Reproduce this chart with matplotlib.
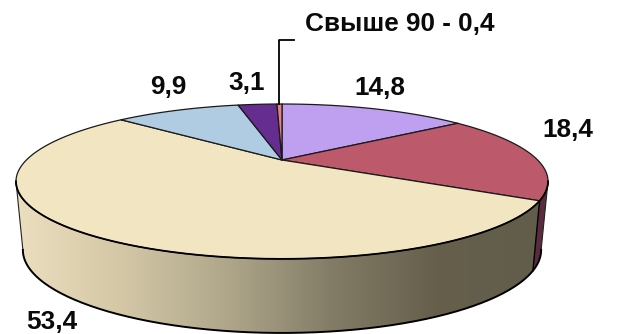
import matplotlib
matplotlib.use('Agg')
import matplotlib.pyplot as plt
import numpy as np
from matplotlib.colors import LinearSegmentedColormap
from matplotlib.patches import Polygon

# clockwise from 12 o'clock
values = [14.8, 18.4, 53.4, 9.9, 3.1, 0.4]
labels = ['14,8', '18,4', '53,4', '9,9', '3,1', 'Свыше 90 - 0,4']
colors = ['#BF9FEF', '#BC5A6B', '#F2E6C2', '#B0CCE2', '#662D91', '#E8827F']
label_pos = [(380, 88), (568, 130), (52, 322), (168, 87), (247, 83), (400, 24)]

plt.rcParams['font.family'] = ['Liberation Sans', 'DejaVu Sans']

# tilted disc, projective so the apex sits above the ellipse centre
K = 0.277

def project(theta, r=1.0, top=True):
    u = r * np.sin(theta)
    v = r * np.cos(theta)
    w = 1 + K * v
    if top:
        return 282 + 255.6 * u / w, 160 - 71.5 * v / w
    return 282 + 249.0 * u / w, 227 - 76.6 * v / w

def arc(a, b, top=True):
    t = np.linspace(a, b, 200)
    x, y = project(t, top=top)
    return np.column_stack([x, y])

fig = plt.figure(figsize=(6.35, 3.34), dpi=100)
ax = fig.add_axes([0, 0, 1, 1])

edges = np.concatenate([[0], np.cumsum(values)]) / sum(values) * 2 * np.pi

# side wall: only the front part of the rim shows
left = np.radians(254)
right = np.radians(106)
wall = np.vstack([arc(right, left), arc(left, right, top=False)])
wall_patch = Polygon(wall, closed=True, fc='none', ec='none')
ax.add_patch(wall_patch)
shade = LinearSegmentedColormap.from_list('wall', ['#EBDFBF', '#D3C7A6', '#B0A78B', '#837D67', '#655F4C', '#625D4B'])
img = ax.imshow(np.linspace(0, 1, 256)[None, :], cmap=shade, extent=[16, 541, 334, 100], aspect='auto', zorder=1)
img.set_clip_path(wall_patch)

# dark end of the red slice
red = np.vstack([arc(right, edges[2]), arc(edges[2], right, top=False)])
ax.add_patch(Polygon(red, closed=True, fc='#5A2A3E', ec='none', zorder=2))
ax.plot(*np.array([project(edges[2]), project(edges[2], top=False)]).T, color='black', lw=1.0, zorder=3)
ax.plot(*np.array([project(left), project(left, top=False)]).T, color='#222222', lw=0.8, zorder=3)
ax.plot(*np.array([project(right), project(right, top=False)]).T, color='#222222', lw=0.8, zorder=3)
ax.plot(*arc(right, left, top=False).T, color='black', lw=1.4, zorder=3)

# top face
for i, c in enumerate(colors):
    pts = np.vstack([[project(0, r=0)], arc(edges[i], edges[i + 1])])
    ax.add_patch(Polygon(pts, closed=True, fc=c, ec='#1a1a1a', lw=0.9, joinstyle='round', zorder=4))
ax.plot(*arc(right, left).T, color='black', lw=1.3, zorder=5)

# leader for the thin slice
mid = (edges[5] + edges[6]) / 2
mx, my = project(mid)
ax.plot([mx, mx, mx + 15], [my, 40, 40], color='black', lw=1.3, zorder=6)

for txt, (x, y) in zip(labels, label_pos):
    ax.text(x, y, txt, ha='center', va='center', fontsize=18.8, fontweight='bold', color='#0a0a0a', zorder=7)

ax.set_xlim(0, 635)
ax.set_ylim(334, 0)
ax.axis('off')
fig.savefig('out.png', dpi=100)
